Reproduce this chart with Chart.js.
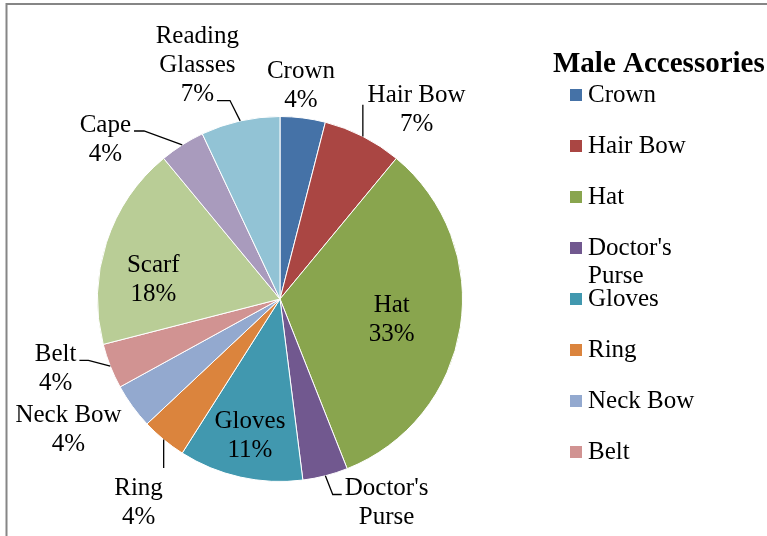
<!DOCTYPE html>
<html>
<head>
<meta charset="utf-8">
<title>Male Accessories</title>
<script src="https://cdn.jsdelivr.net/npm/chart.js@4.4.0/dist/chart.umd.min.js"></script>
<style>
  html, body { margin: 0; padding: 0; background: #fff; }
  canvas { display: block; }
</style>
</head>
<body>
<canvas id="pie" width="767" height="536"></canvas>
<script>
// ==== DATA ====
var categories = ['Crown', 'Hair Bow', 'Hat', "Doctor's Purse", 'Gloves', 'Ring', 'Neck Bow', 'Belt', 'Scarf', 'Cape', 'Reading Glasses'];
var shares = [4, 7, 33, 4, 11, 4, 4, 4, 18, 4, 7];
var sliceColors = ['#4572A7', '#AA4643', '#89A54E', '#71588F', '#4198AF', '#DB843D', '#93A9CF', '#D19392', '#B9CD96', '#A99BBD', '#92C3D5'];
var legendTitle = 'Male Accessories';

// ==== LABEL LAYOUT (polar: k = fraction of radius, ang = degrees clockwise from 12 o'clock) ====
var labelSpots = [
  { k: 1.175, ang: 5.6 },
  { k: 1.276, ang: 35.9, leader: { kind: 'v', dy: 9 } },
  { k: 0.623, ang: 100.6 },
  { k: 1.332, ang: 154.0, leader: { kind: 'h', side: 'left', line: 0, tail: 9 } },
  { k: 0.766, ang: 192.4 },
  { k: 1.358, ang: 214.8, leader: { kind: 'v', dy: -20 } },
  { k: 1.362, ang: 238.3 },
  { k: 1.288, ang: 252.7, leader: { kind: 'h', side: 'right', line: 0, tail: 9 } },
  { k: 0.702, ang: 278.5 },
  { k: 1.296, ang: 312.4, leader: { kind: 'h', side: 'right', line: 0, tail: 10 } },
  { k: 1.357, ang: 340.5, leader: { kind: 'h', side: 'right', line: 2, tail: 13 } }
];

var FONT = '"Liberation Serif", "Times New Roman", serif';
var LABEL_FONT = '25px ' + FONT;
var LINE_H = 29;
var WRAP_W = 120;

function wrap(ctx, text) {
  var words = text.split(' '), lines = [], cur = '';
  words.forEach(function (w) {
    var t = cur ? cur + ' ' + w : w;
    if (cur && ctx.measureText(t).width > WRAP_W) { lines.push(cur); cur = w; }
    else cur = t;
  });
  if (cur) lines.push(cur);
  return lines;
}

// frame around the chart
var framePlugin = {
  id: 'frame',
  beforeDraw: function (chart) {
    var ctx = chart.ctx;
    ctx.save();
    ctx.strokeStyle = '#868686';
    ctx.lineWidth = 2;
    ctx.beginPath();
    ctx.moveTo(6.5, chart.height);
    ctx.lineTo(6.5, 4);
    ctx.lineTo(chart.width, 4);
    ctx.stroke();
    ctx.restore();
  }
};

// name + percent labels with leader lines
var sliceLabels = {
  id: 'sliceLabels',
  afterDatasetsDraw: function (chart) {
    var ctx = chart.ctx;
    var arcs = chart.getDatasetMeta(0).data;
    ctx.save();
    ctx.font = LABEL_FONT;
    ctx.fillStyle = '#000';
    ctx.strokeStyle = '#000';
    ctx.lineWidth = 1.3;
    ctx.textAlign = 'center';
    ctx.textBaseline = 'middle';
    arcs.forEach(function (arc, i) {
      var spot = labelSpots[i];
      var R = arc.outerRadius;
      var a = spot.ang * Math.PI / 180 - Math.PI / 2;
      var cx = arc.x + spot.k * R * Math.cos(a);
      var cy = arc.y + spot.k * R * Math.sin(a);
      var lines = wrap(ctx, categories[i]).concat([shares[i] + '%']);
      var ys = lines.map(function (_, j) { return cy + (j - (lines.length - 1) / 2) * LINE_H; });
      lines.forEach(function (l, j) { ctx.fillText(l, cx, ys[j]); });

      var L = spot.leader;
      if (!L) return;
      var mid = (arc.startAngle + arc.endAngle) / 2;
      var px = arc.x + R * Math.cos(mid), py = arc.y + R * Math.sin(mid);
      ctx.beginPath();
      ctx.moveTo(px, py);
      if (L.kind === 'v') {
        ctx.lineTo(px, ys[0] + L.dy);
      } else {
        var w = ctx.measureText(lines[L.line]).width;
        var ey = ys[L.line] + 6;
        var ex = L.side === 'right' ? cx + w / 2 + 3 : cx - w / 2 - 3;
        var bx = L.side === 'right' ? ex + L.tail : ex - L.tail;
        ctx.lineTo(bx, ey);
        ctx.lineTo(ex, ey);
      }
      ctx.stroke();
    });
    ctx.restore();
  }
};

// legend with title; rows that don't fit the legend box are dropped
var sideLegend = {
  id: 'sideLegend',
  afterDraw: function (chart) {
    var ctx = chart.ctx;
    var left = 553, titleY = 65, boxX = 570, textX = 588, rowY = 95, step = 51, bottom = 475;
    ctx.save();
    ctx.fillStyle = '#000';
    ctx.textBaseline = 'middle';
    ctx.textAlign = 'left';
    ctx.font = 'bold 29px ' + FONT;
    ctx.fillText(legendTitle, left, titleY);
    ctx.font = LABEL_FONT;
    for (var i = 0; i < categories.length; i++) {
      var y = rowY + i * step;
      if (y + 6 > bottom) break;
      ctx.fillStyle = sliceColors[i];
      ctx.fillRect(boxX, y - 6, 12, 12);
      ctx.fillStyle = '#000';
      wrap(ctx, categories[i]).forEach(function (l, j) { ctx.fillText(l, textX, y + j * 28); });
    }
    ctx.restore();
  }
};

new Chart(document.getElementById('pie').getContext('2d'), {
  type: 'pie',
  data: {
    labels: categories,
    datasets: [{ data: shares, backgroundColor: sliceColors, borderColor: '#fff', borderWidth: 1 }]
  },
  options: {
    responsive: false,
    animation: false,
    devicePixelRatio: 1,
    layout: { padding: { left: 97, right: 304, top: 116, bottom: 54 } },
    plugins: { legend: { display: false }, tooltip: { enabled: false } }
  },
  plugins: [framePlugin, sliceLabels, sideLegend]
});
</script>
</body>
</html>
